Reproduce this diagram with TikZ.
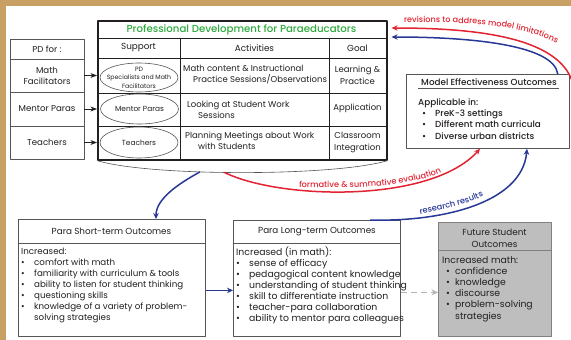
\documentclass[tikz,border=0pt]{standalone}
\usepackage{fontspec}
\setmainfont{Poppins}
\newfontfamily\medfont{Poppins Medium}
\usetikzlibrary{arrows.meta,shapes.geometric,decorations.text}

\definecolor{frametan}{RGB}{201,160,99}
\definecolor{ink}{RGB}{35,31,32}
\definecolor{rulegray}{RGB}{85,85,85}
\definecolor{pdgreen}{RGB}{46,170,62}
\definecolor{evalred}{RGB}{226,35,50}
\definecolor{resblue}{RGB}{40,56,150}
\definecolor{futgray}{RGB}{190,190,190}
\definecolor{dashgray}{RGB}{180,180,180}

% bullet line inside the outcome boxes
\newcommand{\itm}[2][13pt]{\makebox[#1][l]{\textbullet}#2}

\tikzset{
  cell/.style={draw=rulegray,line width=0.7pt,minimum width=74pt,inner sep=0pt,
    align=center,text=ink,font=\fontsize{8.6}{11}\selectfont},
  hdr/.style={text=ink,align=center,inner sep=0pt,font=\fontsize{8.8}{12}\selectfont},
  small/.style={text=ink,align=center,inner sep=0pt,font=\fontsize{8.5}{11.5}\selectfont},
  supp/.style={ellipse,draw=rulegray,line width=0.6pt,minimum width=78pt,inner sep=0pt},
  outbox/.style={draw=rulegray,line width=0.8pt,inner sep=0pt,anchor=north west},
  % anchored at the baseline of the last line
  body/.style={text=ink,align=left,inner sep=0pt,anchor=base west,
    font=\fontsize{8.5}{11}\selectfont},
  bigbody/.style={body,font=\fontsize{9.3}{11}\selectfont},
  flow/.style={line width=1.5pt,-{Stealth[length=6pt,width=5.5pt]}},
  lbl/.style={decorate,decoration={text along path,text color=#1}},
}

\begin{document}
\begin{tikzpicture}[x=1pt,y=-1pt,>=Stealth,line join=round]
\fill[frametan] (0,0) rectangle (571,340);
\fill[white] (6,6) rectangle (571,340);
\useasboundingbox (0,0) rectangle (571,340);

% ---------- left column: who gets PD ----------
\node[cell,minimum height=20pt] (pdfor) at (47,49) {PD for :};
\node[cell,minimum height=33pt] (mathfac) at (47,75.5) {Math\\Facilitators};
\node[cell,minimum height=34pt] (mentor) at (47,109) {Mentor Paras};
\node[cell,minimum height=33pt] (teach) at (47,142.5) {Teachers};

% ---------- PD table ----------
\node[draw=ink,line width=1.6pt,minimum width=289pt,minimum height=139pt,
  inner sep=0pt,anchor=north west] (pdtable) at (97,20) {};
\draw[ink,line width=0.6pt] (97,38) -- (386,38) (97,58) -- (386,58)
  (97,93) -- (386,93) (97,126) -- (386,126);
\draw[ink,line width=0.6pt] (180,38) -- (180,159) (329,38) -- (329,159);

\node[text=pdgreen,inner sep=0pt,font=\fontsize{10.2}{11}\medfont]
  (pdtitle) at (241.5,29.5) {Professional Development for Paraeducators};
\node[hdr] (hsupport) at (138.5,48) {Support};
\node[hdr] (hactiv) at (254.5,48) {Activities};
\node[hdr] (hgoal) at (357.5,48) {Goal};

\node[supp,minimum height=29pt,
  label={[text=ink,align=center,font=\fontsize{6.2}{8.6}\selectfont]center:PD\\Specialists and Math\\Facilitators}]
  (spmath) at (139,77.5) {};
\node[supp,minimum height=30pt,
  label={[text=ink,font=\fontsize{7.4}{8}\selectfont]center:Mentor Paras}]
  (spmentor) at (139.5,109) {};
\node[supp,minimum height=31pt,
  label={[text=ink,font=\fontsize{7.4}{8}\selectfont]center:Teachers}]
  (spteach) at (139,142.5) {};

\node[body] (actmath) at (183,82) {Math content \& Instructional\\
  \hspace*{10pt}Practice Sessions/Observations};
\node[body] (actmentor) at (187,118.5) {Looking at Student Work\\
  \hspace*{11pt}Sessions};
\node[body] (actteach) at (185,149.5) {Planning Meetings about Work\\
  \hspace*{13pt}with Students};

\node[small] (gmath) at (357.5,75.5) {Learning \&\\Practice};
\node[small] (gmentor) at (357.5,108.5) {Application};
\node[small] (gteach) at (357.5,142.5) {Classroom\\Integration};

\draw[->,ink,line width=0.8pt] (mathfac.east) -- (mathfac.east -| pdtable.west);
\draw[->,ink,line width=0.8pt] (mentor.east) -- (mentor.east -| pdtable.west);
\draw[->,ink,line width=0.8pt] (teach.east) -- (teach.east -| pdtable.west);

% curved base under the table, both outputs leave from it
\draw[rulegray,line width=0.6pt] (pdtable.south west) .. controls +(53,16) and +(-53,16)
  .. (pdtable.south east) coordinate[pos=0.38] (trainout) coordinate[pos=0.45] (evalout);

% ---------- model effectiveness ----------
\node[outbox,minimum width=163pt,minimum height=74pt] (model) at (406,74) {};
\node[text=ink,inner sep=0pt,font=\fontsize{8.8}{10}\medfont]
  (modeltitle) at (489,82) {Model Effectiveness Outcomes};
\draw[rulegray,line width=0.7pt] ([xshift=12pt,yshift=-14pt]model.north west)
  -- ([xshift=-11pt,yshift=-14pt]model.north east);
\node[body,font=\fontsize{8.8}{11.2}\medfont] (modeltxt) at (418,139.1)
  {Applicable in:\\
   \hspace*{4pt}\itm{PreK-3 settings}\\
   \hspace*{4pt}\itm{Different math curricula}\\
   \hspace*{4pt}\itm{Diverse urban districts}};

% ---------- outcome boxes ----------
\node[outbox,minimum width=187pt,minimum height=117pt] (shortout) at (18,219) {};
\draw[rulegray,line width=0.8pt] ([yshift=-24pt]shortout.north west) -- ([yshift=-24pt]shortout.north east);
\node[hdr] (shorttitle) at (111.5,231) {Para Short-term Outcomes};
\node[body,font=\fontsize{8.7}{11}\selectfont] (shorttxt) at (21,320) {Increased:\\
  \itm{comfort with math}\\
  \itm{familiarity with curriculum \& tools}\\
  \itm{ability to listen for student thinking}\\
  \itm{questioning skills}\\
  \itm{knowledge of a variety of problem-}\\
  \hspace*{13pt}solving strategies};

\node[outbox,minimum width=167pt,minimum height=116pt] (longout) at (233,220) {};
\draw[rulegray,line width=0.8pt] ([yshift=-23pt]longout.north west) -- ([yshift=-23pt]longout.north east);
\node[hdr] (longtitle) at (317,231.5) {Para Long-term Outcomes};
\node[bigbody] (longtxt) at (236,321) {Increased (in math):\\
  \itm{sense of efficacy}\\
  \itm{pedagogical content knowledge}\\
  \itm{understanding of student thinking}\\
  \itm{skill to differentiate instruction}\\
  \itm{teacher-para collaboration}\\
  \itm{ability to mentor para colleagues}};

\node[outbox,draw=gray,fill=futgray,minimum width=113pt,minimum height=114pt] (futout) at (438,222) {};
\draw[gray,line width=0.8pt] ([yshift=-28pt]futout.north west) -- ([yshift=-28pt]futout.north east);
\node[hdr] (futtitle) at (494.5,238) {Future Student\\Outcomes};
\node[bigbody,font=\fontsize{9.3}{11.2}\selectfont] (futtxt) at (442,319) {Increased math:\\
  \hspace*{4pt}\itm[9pt]{confidence}\\
  \hspace*{4pt}\itm[9pt]{knowledge}\\
  \hspace*{4pt}\itm[9pt]{discourse}\\
  \hspace*{4pt}\itm[9pt]{problem-solving}\\
  \hspace*{13pt}strategies};

% ---------- connectors ----------
\draw[flow,resblue,line width=1.3pt] ([yshift=-12.5pt]shortout.east) -- ([yshift=-12.5pt]shortout.east -| longout.west);
\draw[dashgray,line width=1.7pt,dash pattern=on 6pt off 4pt,-{Stealth[length=6.5pt,width=6pt]}]
  ([yshift=-14pt]longout.east) -- ([yshift=-14pt]longout.east -| futout.west);

\draw[flow,resblue] (trainout) .. controls +(-22,12) and +(0,-20) .. ([xshift=138pt]shortout.north west);
\draw[flow,evalred] (evalout) .. controls +(55,27) and +(-50,55) .. ([xshift=74pt]model.south west);
\draw[flow,resblue] ([xshift=137pt]longout.north west) .. controls +(70,2) and +(-5,55) .. ([xshift=121pt]model.south west);

\coordinate (revin) at (574,88);
\draw[flow,evalred] (revin) .. controls (565,38) and (480,28) .. ([xshift=4pt,yshift=-8pt]pdtable.north east);
\draw[flow,resblue] ([xshift=-12pt]model.north east) .. controls +(-4,-29) and +(80,0)
  .. ([xshift=4pt,yshift=-17pt]pdtable.north east);

% ---------- arrow labels ----------
\path[lbl=evalred,decoration={text={|\fontsize{8.1}{9}\medfont|revisions to address model limitations}}]
  (404,23) .. controls (480,21) and (530,27) .. (563,47);
\path[lbl=evalred,decoration={text={|\fontsize{8.2}{9}\medfont|formative {\&} summative evaluation}}]
  (299,187) .. controls (360,190) and (410,186) .. (442,172);
\path[lbl=resblue,decoration={text={|\fontsize{8.2}{9}\medfont|research results}}]
  (420,214) .. controls (445,210) and (470,204) .. (494,191);
\end{tikzpicture}
\end{document}
